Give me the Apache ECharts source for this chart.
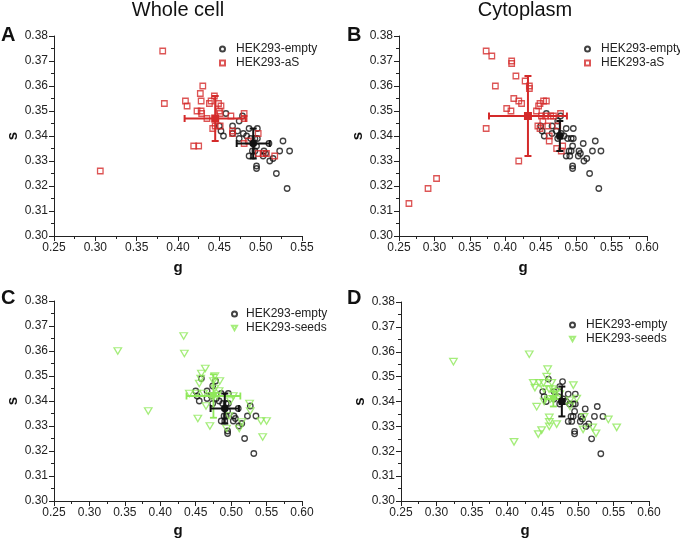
<!DOCTYPE html>
<html>
<head>
<meta charset="utf-8">
<script src="https://cdn.jsdelivr.net/npm/echarts@6/dist/echarts.min.js"></script>
<style>html,body{margin:0;padding:0;background:#fff}#c{width:680px;height:540px}</style>
</head>
<body>
<div id="c"></div>
<script>
// ---- data ----
const panelTitles = ['Whole cell', 'Cytoplasm'];
const panelLetters = ['A', 'B', 'C', 'D'];
const xMaxes = [0.55, 0.60, 0.60, 0.60];
const legendNames = ['HEK293-empty', 'HEK293-aS', 'HEK293-seeds'];

// HEK293-empty points [g, s]
const emptyPoints = [
  [0.458,0.349],[0.478,0.348],[0.474,0.346],[0.450,0.344],[0.452,0.342],[0.455,0.340],
  [0.466,0.344],[0.466,0.341],[0.472,0.342],[0.474,0.339],[0.479,0.341],[0.483,0.340],
  [0.486,0.343],[0.496,0.343],[0.488,0.339],[0.496,0.339],[0.493,0.339],[0.490,0.334],
  [0.493,0.334],[0.495,0.336],[0.486,0.332],[0.491,0.332],[0.495,0.328],[0.495,0.327],
  [0.504,0.334],[0.506,0.333],[0.503,0.332],[0.511,0.330],[0.515,0.331],[0.510,0.337],
  [0.523,0.334],[0.527,0.338],[0.535,0.334],[0.519,0.325],[0.532,0.319]
];
// HEK293-aS, whole cell
const aSWhole = [
  [0.3815,0.374],[0.3835,0.353],[0.306,0.326],[0.430,0.360],[0.427,0.357],[0.409,0.354],
  [0.411,0.352],[0.428,0.354],[0.444,0.356],[0.440,0.354],[0.438,0.353],[0.449,0.353],
  [0.452,0.352],[0.423,0.350],[0.428,0.350],[0.4286,0.349],[0.450,0.350],[0.451,0.349],
  [0.435,0.347],[0.464,0.348],[0.480,0.347],[0.480,0.349],[0.442,0.343],[0.445,0.344],
  [0.451,0.344],[0.466,0.342],[0.466,0.341],[0.419,0.336],[0.425,0.336],[0.480,0.337],
  [0.485,0.338],[0.497,0.341],[0.497,0.333],[0.503,0.333],[0.507,0.333],[0.517,0.332]
];
// HEK293-aS, cytoplasm
const aSCyto = [
  [0.373,0.374],[0.381,0.372],[0.409,0.370],[0.409,0.369],[0.415,0.364],[0.428,0.362],
  [0.434,0.360],[0.434,0.359],[0.386,0.360],[0.412,0.355],[0.419,0.354],[0.423,0.353],
  [0.402,0.351],[0.408,0.350],[0.373,0.343],[0.419,0.330],[0.264,0.313],[0.291,0.319],
  [0.303,0.323],[0.454,0.354],[0.458,0.354],[0.449,0.353],[0.447,0.352],[0.444,0.350],
  [0.451,0.348],[0.457,0.348],[0.464,0.348],[0.468,0.348],[0.478,0.349],[0.446,0.344],
  [0.449,0.343],[0.453,0.346],[0.460,0.344],[0.462,0.340],[0.462,0.338],[0.4725,0.335],
  [0.479,0.334],[0.481,0.336],[0.474,0.344]
];
// HEK293-seeds, whole cell
const seedsWhole = [
  [0.340,0.360],[0.383,0.336],[0.433,0.366],[0.434,0.359],[0.4635,0.353],[0.458,0.351],
  [0.457,0.349],[0.455,0.347],[0.477,0.350],[0.484,0.348],[0.475,0.348],[0.477,0.345],
  [0.441,0.343],[0.451,0.343],[0.461,0.343],[0.471,0.342],[0.480,0.342],[0.483,0.344],
  [0.499,0.340],[0.503,0.342],[0.526,0.339],[0.527,0.336],[0.4645,0.338],[0.453,0.333],
  [0.470,0.330],[0.4935,0.329],[0.497,0.334],[0.5115,0.329],[0.515,0.3316],[0.542,0.332],
  [0.550,0.332],[0.5445,0.3256]
];
// HEK293-seeds, cytoplasm
const seedsCyto = [
  [0.324,0.356],[0.431,0.359],[0.457,0.353],[0.4556,0.350],[0.4367,0.3475],[0.445,0.3475],
  [0.451,0.3475],[0.4627,0.3475],[0.439,0.3456],[0.452,0.345],[0.459,0.345],[0.464,0.345],
  [0.469,0.344],[0.474,0.343],[0.4932,0.3466],[0.4885,0.3405],[0.498,0.3412],[0.4415,0.3379],
  [0.452,0.340],[0.461,0.341],[0.4593,0.3336],[0.4593,0.3318],[0.4593,0.330],[0.4697,0.3309],
  [0.4485,0.3285],[0.4437,0.3269],[0.4095,0.3238],[0.5083,0.3338],[0.507,0.3288],[0.5205,0.3296],
  [0.5252,0.3272],[0.5426,0.3328],[0.5544,0.3296],[0.4885,0.338]
];
// means with SD: [g, s, sd_g, sd_s]
const meanEmptyWhole = [0.491, 0.337, 0.020, 0.006];
const meanEmptyCyto  = [0.477, 0.340, 0.003, 0.006];
const meanASWhole    = [0.445, 0.347, 0.037, 0.009];
const meanASCyto     = [0.432, 0.348, 0.055, 0.016];
const meanSeedsWhole = [0.475, 0.342, 0.038, 0.0087];
const meanSeedsCyto  = [0.465, 0.341, 0.012, 0.003];

// ---- styling ----
const RED = '#D42A2A', GREEN = '#8FE85A', BLACK = '#111';
const FONT = 'Liberation Sans, Arial, sans-serif';
const grids = [
  {left: 54, top: 36, width: 248, height: 200},
  {left: 399, top: 36, width: 248, height: 200},
  {left: 54, top: 301, width: 248, height: 200},
  {left: 401, top: 302, width: 248, height: 199}
];
const triDown = 'path://M0,0 L10,0 L5,9 Z';

function errRender(color, shape, lw) {
  return function (params, api) {
    const g = api.value(0), s = api.value(1), dg = api.value(2), ds = api.value(3);
    const c = api.coord([g, s]);
    const l = api.coord([g - dg, s]), r = api.coord([g + dg, s]);
    const t = api.coord([g, s + ds]), b = api.coord([g, s - ds]);
    const cap = 3.5;
    const st = {stroke: color, lineWidth: lw};
    const line = (x1, y1, x2, y2) => ({type: 'line', shape: {x1, y1, x2, y2}, style: st});
    const ch = [
      line(l[0], l[1], r[0], r[1]), line(t[0], t[1], b[0], b[1]),
      line(l[0], l[1] - cap, l[0], l[1] + cap), line(r[0], r[1] - cap, r[0], r[1] + cap),
      line(t[0] - cap, t[1], t[0] + cap, t[1]), line(b[0] - cap, b[1], b[0] + cap, b[1])
    ];
    if (shape === 'circle') ch.push({type: 'circle', shape: {cx: c[0], cy: c[1], r: 3.8}, style: {fill: color}});
    else if (shape === 'rect') ch.push({type: 'rect', shape: {x: c[0] - 4, y: c[1] - 4, width: 8, height: 8}, style: {fill: color}});
    else ch.push({type: 'polygon', shape: {points: [[c[0] - 5, c[1] - 4], [c[0] + 5, c[1] - 4], [c[0], c[1] + 4.5]]}, style: {fill: color}});
    return {type: 'group', children: ch};
  };
}

const xAxes = [], yAxes = [], series = [];
for (let i = 0; i < 4; i++) {
  xAxes.push({
    gridIndex: i, type: 'value', min: 0.25, max: xMaxes[i], interval: 0.05,
    name: 'g', nameLocation: 'middle', nameGap: i < 2 ? 24 : 22,
    nameTextStyle: {fontFamily: FONT, fontSize: 15, fontWeight: 'bold', color: '#111'},
    axisLine: {show: true, lineStyle: {color: '#222', width: 1}},
    axisTick: {show: true, inside: false, length: 5, lineStyle: {color: '#222'}},
    minorTick: {show: true, splitNumber: 2, length: 3, lineStyle: {color: '#222'}},
    splitLine: {show: false},
    axisLabel: {fontFamily: FONT, fontSize: 12, color: '#222', margin: 6, formatter: v => v.toFixed(2)}
  });
  yAxes.push({
    gridIndex: i, type: 'value', min: 0.30, max: 0.38, interval: 0.01,
    name: 's', nameLocation: 'middle', nameGap: 32, nameRotate: 90,
    nameTextStyle: {fontFamily: FONT, fontSize: 15, fontWeight: 'bold', color: '#111'},
    axisLine: {show: true, lineStyle: {color: '#222', width: 1}},
    axisTick: {show: true, inside: false, length: 5, lineStyle: {color: '#222'}},
    minorTick: {show: true, splitNumber: 2, length: 3, lineStyle: {color: '#222'}},
    splitLine: {show: false},
    axisLabel: {fontFamily: FONT, fontSize: 12, color: '#222', margin: 6, formatter: v => v.toFixed(2)}
  });
  const isAS = i < 2;
  const otherPts = [aSWhole, aSCyto, seedsWhole, seedsCyto][i];
  const otherMean = [meanASWhole, meanASCyto, meanSeedsWhole, meanSeedsCyto][i];
  const emptyMean = (i % 2 === 0) ? meanEmptyWhole : meanEmptyCyto;
  const col = isAS ? RED : GREEN;
  series.push({
    type: 'scatter', name: legendNames[0], xAxisIndex: i, yAxisIndex: i, z: 2,
    data: emptyPoints, symbol: 'circle', symbolSize: 5.5,
    itemStyle: {color: 'rgba(255,255,255,0)', borderColor: BLACK, borderWidth: 1.3}
  });
  series.push({
    type: 'scatter', name: isAS ? legendNames[1] : legendNames[2], xAxisIndex: i, yAxisIndex: i, z: 3,
    data: otherPts, symbol: isAS ? 'rect' : triDown, symbolSize: isAS ? 5.5 : [7.5, 6.5],
    itemStyle: {color: 'rgba(255,255,255,0)', borderColor: col, borderWidth: 1.3}
  });
  series.push({
    type: 'custom', name: 'mean-other-' + i, xAxisIndex: i, yAxisIndex: i, z: 4,
    data: [otherMean], encode: {x: 0, y: 1},
    renderItem: errRender(col, isAS ? 'rect' : 'tri', isAS ? 2 : 1.8)
  });
  series.push({
    type: 'custom', name: 'mean-empty-' + i, xAxisIndex: i, yAxisIndex: i, z: 5,
    data: [emptyMean], encode: {x: 0, y: 1},
    renderItem: errRender(BLACK, 'circle', 2)
  });
}

// [left, top, text padding]
const legendPos = [[219, 43, 6], [584, 43, 6], [231, 308, 4], [569, 319, 6]];
const legends = legendPos.map((p, i) => ({
  left: p[0], top: p[1], orient: 'vertical', itemWidth: 5, itemHeight: 5, itemGap: 2,
  padding: 0, selectedMode: false,
  data: [legendNames[0], i < 2 ? legendNames[1] : legendNames[2]],
  textStyle: {fontFamily: FONT, fontSize: 12, color: '#222', lineHeight: 12, padding: [0, 0, 0, p[2]]}
}));

const titles = [
  {text: panelTitles[0], left: 178, top: 0, textAlign: 'center'},
  {text: panelTitles[1], left: 525, top: 0, textAlign: 'center'}
].map(t => Object.assign(t, {padding: 0, textStyle: {fontFamily: FONT, fontSize: 20, fontWeight: 'normal', color: '#111'}}));
const letterPos = [[1, 25], [347, 25], [1, 288], [347, 288]];
letterPos.forEach((p, i) => titles.push({
  text: panelLetters[i], left: p[0], top: p[1], padding: 0,
  textStyle: {fontFamily: FONT, fontSize: 20, fontWeight: 'bold', color: '#111'}
}));

const chart = echarts.init(document.getElementById('c'), null, {renderer: 'canvas'});
chart.setOption({
  animation: false,
  backgroundColor: '#fff',
  title: titles,
  legend: legends,
  grid: grids,
  xAxis: xAxes,
  yAxis: yAxes,
  series: series
});
</script>
</body>
</html>
